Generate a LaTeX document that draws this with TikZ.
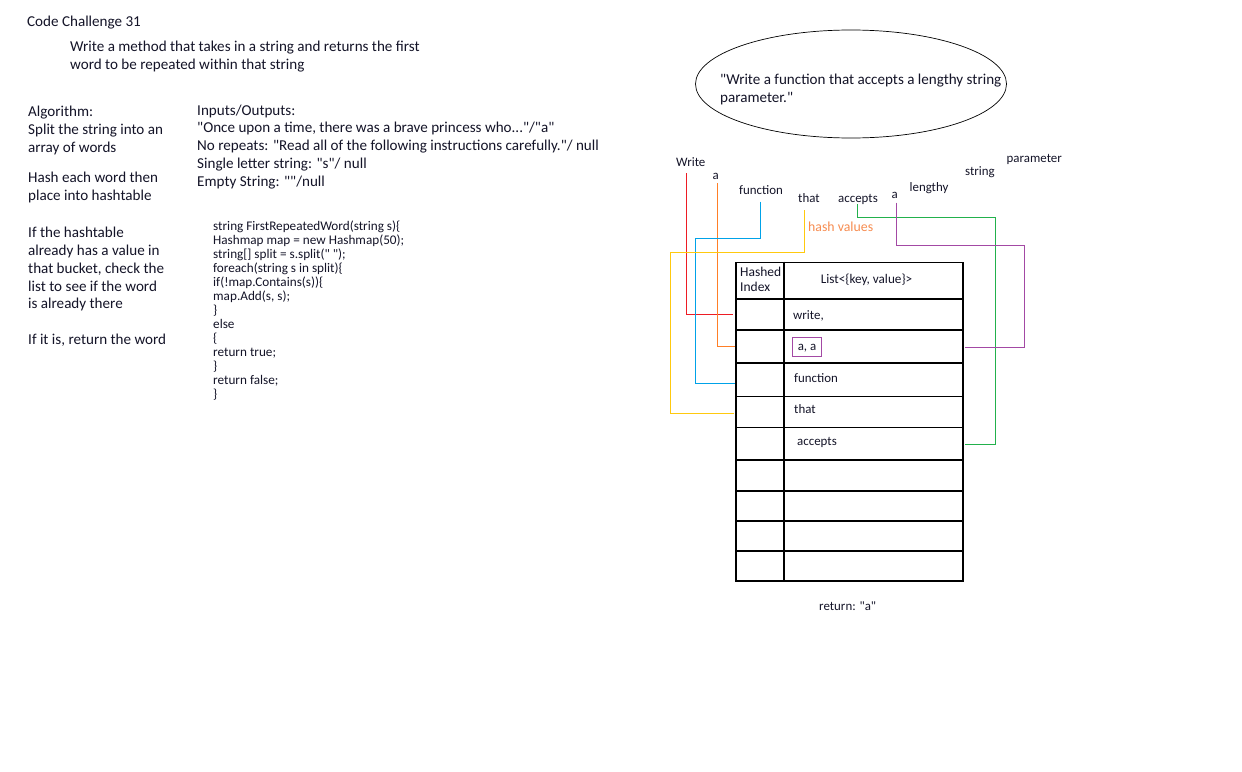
\documentclass[tikz,border=0pt]{standalone}
\usepackage{fontspec}
\setmainfont{Carlito}[Ligatures=TeXOff]
\usetikzlibrary{shapes.geometric}
\definecolor{cred}{RGB}{237,28,36}
\definecolor{corange}{RGB}{255,127,39}
\definecolor{cblue}{RGB}{0,162,232}
\definecolor{cyellow}{RGB}{255,201,14}
\definecolor{cgreen}{RGB}{34,177,76}
\definecolor{cpurple}{RGB}{163,73,164}
\definecolor{chash}{RGB}{247,140,80}
\definecolor{ink}{RGB}{20,20,40}
\begin{document}
\begin{tikzpicture}[x=1pt,y=-1pt,
  txt/.style={anchor=base west, inner sep=0pt, text=ink, font=\fontsize{15.1}{17.8}\selectfont},
  codetxt/.style={anchor=base west, inner sep=0pt, text=ink, font=\fontsize{13.2}{14}\selectfont},
  lbl/.style={anchor=base west, inner sep=0pt, text=ink, font=\fontsize{12.9}{15}\selectfont},
  cellbox/.style={draw, line width=1.2pt, anchor=north west, inner sep=0pt},
  conn/.style={line width=1pt}
]
\useasboundingbox[fill=white] (0,0) rectangle (1242,771);

% title and description
\node[txt] (title) at (27,26.5) {Code Challenge 31};
\node[txt] (desc1) at (70,51.5) {Write a method that takes in a string and returns the first};
\node[txt] (desc2) at (70,69.2) {word to be repeated within that string};

% algorithm
\foreach \t [count=\i from 0] in {Algorithm:,Split the string into an,array of words}
  \node[txt] (alg\i) at (28,116.8+17.8*\i) {\t};
\foreach \t [count=\i from 0] in {Hash each word then,place into hashtable}
  \node[txt] (hsh\i) at (28,182.3+17.8*\i) {\t};
\foreach \t [count=\i from 0] in {If the hashtable,already has a value in,{that bucket, check the},list to see if the word,is already there}
  \node[txt] (chk\i) at (28,237.3+17.9*\i) {\t};
\node[txt] (ret) at (28,344) {If it is, return the word};

% inputs / outputs
\node[txt] (io0) at (197,115) {Inputs/Outputs:};
\node[txt] (io1) at (197,132.75) {"Once upon a time, there was a brave princess who..."/"a"};
\node[txt] (io2) at (197,150.5) {No repeats: "Read all of the following instructions carefully."/ null};
\node[txt] (io3) at (197,168.25) {Single letter string: "s"/ null};
\node[txt] (io4) at (197,186) {Empty String: ""/null};

% code
\foreach \t [count=\i from 0] in {string FirstRepeatedWord(string s)\{,Hashmap map = new Hashmap(50);,string[] split = s.split(" ");,foreach(string s in split)\{,if(!map.Contains(s))\{,{map.Add(s, s);},\},else,\{,return true;,\},return false;,\}}
  \node[codetxt] (code\i) at (213,230+14.03*\i) {\t};

% ellipse with sentence
\node[draw, ellipse, line width=0.7pt, minimum width=311, minimum height=108, inner sep=0pt] (ell) at (851,84) {};
\node[txt] (sent1) at (720,84.5) {"Write a function that accepts a lengthy string};
\node[txt] (sent2) at (720,102.3) {parameter."};

% word labels
\node[lbl] (wWrite) at (676,166.5) {Write};
\node[lbl] (wa1) at (712.5,179.5) {a};
\node[lbl] (wfunction) at (739,194.5) {function};
\node[lbl] (wthat) at (798,202.5) {that};
\node[lbl] (waccepts) at (838,202.5) {accepts};
\node[lbl] (wa2) at (891.5,198.5) {a};
\node[lbl] (wlengthy) at (909.5,191.5) {lengthy};
\node[lbl] (wstring) at (965,175.5) {string};
\node[lbl] (wparameter) at (1006.5,162.5) {parameter};
\node[lbl, text=chash, font=\fontsize{13.8}{15}\selectfont] (hashv) at (808,231) {hash values};

% table
\def\ys{{261.7,298.3,329.3,362.3,395.7,426.7,459.3,490.3,520.3,550.3,580.3}}
\foreach \r in {0,...,9}{
  \pgfmathsetmacro\ya{\ys[\r]}
  \pgfmathsetmacro\yb{\ys[\r+1]}
  \pgfmathsetmacro\hh{\yb-\ya}
  \node[cellbox, minimum width=47.4pt, minimum height=\hh pt] (idx\r) at (735.3,\ya) {};
  \node[cellbox, minimum width=179.6pt, minimum height=\hh pt] (lst\r) at (782.7,\ya) {};
}
\draw[line width=2.3pt] (idx0.north east) -- (idx9.south east);

\node[lbl, anchor=base west, font=\fontsize{13.5}{15}\selectfont] (hhead1) at (740,276.5) {Hashed};
\node[lbl, anchor=base west, font=\fontsize{13.5}{15}\selectfont] (hhead2) at (740,291.5) {Index};
\node[lbl, anchor=center, font=\fontsize{13.2}{15}\selectfont] (lhead) at (866.5,279.5) {List<\{key, value\}>};
\node[lbl] (cwrite) at (793,319) {write,};
\node[lbl, draw=cpurple, line width=1pt, anchor=north west, inner xsep=4.5pt, inner ysep=0pt, minimum height=19pt, minimum width=29pt, text depth=0pt] (caa) at (792,337) {a, a};
\node[lbl] (cfunction) at (794,382) {function};
\node[lbl] (cthat) at (794,413) {that};
\node[lbl] (caccepts) at (797,445) {accepts};

\node[lbl] (retA) at (819,610) {return: "a"};

% connector start coordinates
\coordinate (sWrite) at (686,173.3);
\coordinate (sA1) at (717.7,183.3);
\coordinate (sFunction) at (760.7,201.7);
\coordinate (sThat) at (804.3,210);
\coordinate (sAccepts) at (857.7,204);
\coordinate (sA2) at (896.3,202.7);

% connectors
\draw[conn, cred] (sWrite) |- ([xshift=-2pt]idx1.west);
\draw[conn, corange] (sA1) |- (idx2.west);
\draw[conn, cblue] (sFunction) |- (695.3,238.3) |- ([yshift=-4.3pt]idx3.west);
\draw[conn, cyellow] (sThat) |- (670.7,252.3) |- ([xshift=-1.5pt,yshift=-2pt]idx4.west);
\draw[conn, cgreen] (sAccepts) |- (995.3,217.3) |- ([xshift=1.7pt,yshift=-1.2pt]lst5.east);
\draw[conn, cpurple] (sA2) |- (1024.3,245.3) |- ([xshift=1.7pt,yshift=-1.5pt]lst2.east);
\end{tikzpicture}
\end{document}
